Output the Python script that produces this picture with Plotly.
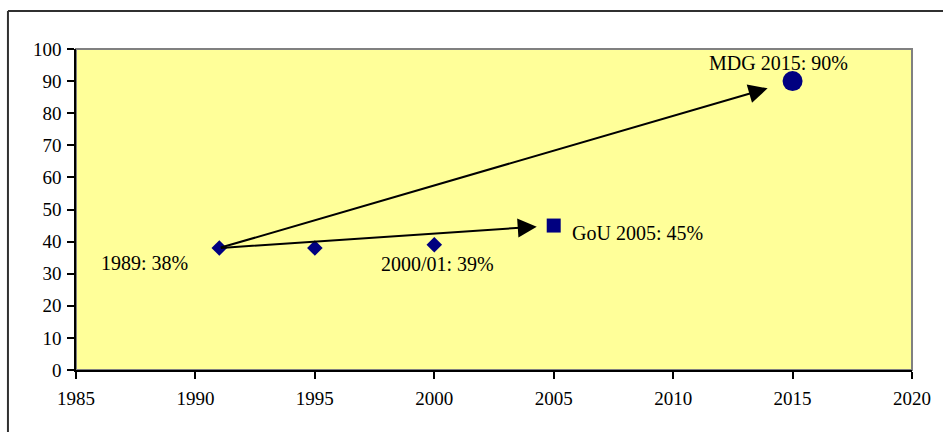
import plotly.graph_objects as go

# Observed survey points (diamonds)
survey_years = [1991, 1995, 2000]
survey_values = [38, 38, 39]
# Government of Uganda 2005 target (square)
gou_years = [2005]
gou_values = [45]
# MDG 2015 target (circle)
mdg_years = [2015]
mdg_values = [90]

label_1989 = "1989: 38%"
label_2000 = "2000/01: 39%"
label_gou = "GoU 2005: 45%"
label_mdg = "MDG 2015: 90%"

x_ticks = [1985, 1990, 1995, 2000, 2005, 2010, 2015, 2020]
y_ticks = [0, 10, 20, 30, 40, 50, 60, 70, 80, 90, 100]

NAVY = "#000080"
FONT = "Liberation Serif, Times New Roman, serif"

fig = go.Figure()
fig.add_trace(go.Scatter(x=survey_years, y=survey_values, mode="markers",
                         marker=dict(symbol="diamond", size=12, color=NAVY),
                         showlegend=False, hoverinfo="skip"))
fig.add_trace(go.Scatter(x=gou_years, y=gou_values, mode="markers",
                         marker=dict(symbol="square", size=14, color=NAVY),
                         showlegend=False, hoverinfo="skip"))
fig.add_trace(go.Scatter(x=mdg_years, y=mdg_values, mode="markers",
                         marker=dict(symbol="circle", size=20, color=NAVY),
                         showlegend=False, hoverinfo="skip"))

tf = dict(family=FONT, size=19, color="black")
af = dict(family=FONT, size=20, color="black")
anns = []
# arrows from first survey point to targets
anns.append(dict(x=gou_years[0], y=gou_values[0], ax=survey_years[0], ay=survey_values[0],
                 xref="x", yref="y", axref="x", ayref="y", text="", showarrow=True,
                 arrowhead=2, arrowsize=1.9, arrowwidth=2, arrowcolor="black", standoff=17))
anns.append(dict(x=mdg_years[0], y=mdg_values[0], ax=survey_years[0], ay=survey_values[0],
                 xref="x", yref="y", axref="x", ayref="y", text="", showarrow=True,
                 arrowhead=2, arrowsize=1.9, arrowwidth=2, arrowcolor="black", standoff=26))
# labels
anns.append(dict(x=survey_years[0], y=survey_values[0], text=label_1989, showarrow=False,
                 xshift=-75, yshift=-15, font=af))
anns.append(dict(x=survey_years[2], y=survey_values[2], text=label_2000, showarrow=False,
                 xshift=3, yshift=-19, font=af))
anns.append(dict(x=gou_years[0], y=gou_values[0], text=label_gou, showarrow=False,
                 xanchor="left", xshift=16, yshift=-7, font=af))
anns.append(dict(x=mdg_years[0], y=mdg_values[0], text=label_mdg, showarrow=False,
                 xshift=-14, yshift=18, font=af))

shapes = [
    # plot-area border (gray)
    dict(type="rect", xref="paper", yref="paper", x0=0, y0=0, x1=1, y1=1,
         line=dict(color="#808080", width=2), layer="below"),
    # outer frame (left and top only visible)
    dict(type="line", xref="paper", yref="paper", x0=-0.0814, y0=1.1184, x1=1.05, y1=1.1184,
         line=dict(color="#303030", width=2)),
    dict(type="line", xref="paper", yref="paper", x0=-0.0814, y0=1.1184, x1=-0.0814, y1=-0.25,
         line=dict(color="#303030", width=2)),
]

fig.update_layout(
    width=943, height=432,
    margin=dict(l=76, r=31, t=49, b=62),
    paper_bgcolor="white", plot_bgcolor="#FFFF99",
    font=tf,
    annotations=anns, shapes=shapes,
    xaxis=dict(range=[1985, 2020], tickvals=x_ticks, showgrid=False, zeroline=False,
               showline=True, linecolor="black", linewidth=1.5,
               ticks="outside", ticklen=7, tickwidth=1.5, tickcolor="black",
               ticklabelstandoff=3, tickfont=tf, fixedrange=True),
    yaxis=dict(range=[0, 100], tickvals=y_ticks, showgrid=False, zeroline=False,
               showline=True, linecolor="black", linewidth=1.5,
               ticks="outside", ticklen=7, tickwidth=1.5, tickcolor="black",
               ticklabelstandoff=2, tickfont=tf, fixedrange=True),
)

fig.write_html("out.html")
